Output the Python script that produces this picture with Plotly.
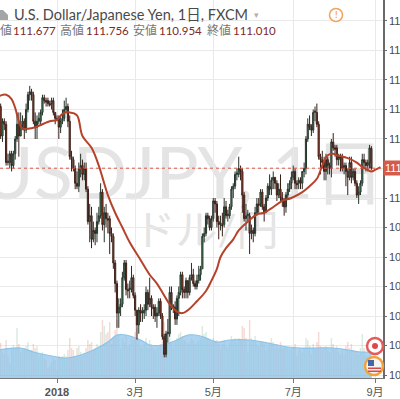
import plotly.graph_objects as go

# ---------------- data ----------------
open_ = [112.9,113.1,112.1,112.6,112.5,111.2,111.2,111.5,111.1,111.5,112.0,
         112.5,112.1,112.5,112.6,112.3,113.0,113.5,113.6,113.5,112.6,112.4,112.6,112.6,112.9,113.4,113.3,113.3,113.2,113.2,113.3,112.9,
         112.7,112.7,112.4,112.6,112.7,113.0,113.1,112.6,111.4,111.3,111.0,110.5,110.4,111.0,111.1,110.8,111.0,110.3,109.2,109.4,108.6,108.9,108.8,
         109.2,109.4,110.2,109.1,109.5,109.3,109.3,108.8,108.7,107.8,107.1,106.1,106.3,106.4,107.3,107.8,106.9,106.9,106.9,107.3,
         106.7,106.2,105.7,106.2,106.1,106.1,106.2,106.8,106.4,106.6,106.3,106.3,106.0,106.1,106.5,106.0,105.3,104.7,105.4,105.4,106.8,106.3,
         106.3,105.9,106.6,106.8,107.4,106.9,106.8,107.2,106.8,107.3,107.4,107.1,107.0,107.2,107.4,107.6,108.7,108.8,109.4,109.3,109.0,
         109.3,109.9,109.8,109.2,109.1,109.1,109.1,109.7,109.4,109.4,109.7,110.3,110.4,110.8,110.8,111.0,110.9,110.1,109.3,109.4,109.4,108.8,108.9,
         108.8,109.5,109.8,109.8,110.2,109.7,109.5,110.0,110.4,110.3,110.6,110.7,110.5,110.1,110.3,110.0,109.9,109.7,110.1,110.3,110.5,
         110.7,110.9,110.5,110.5,110.6,110.5,110.9,111.0,112.0,112.5,112.4,112.3,112.9,112.9,112.5,111.4,111.3,111.2,110.9,111.3,111.1,111.0,
         111.9,111.7,111.7,111.3,111.4,111.4,111.0,111.1,110.9,110.7,111.2,110.7,110.9,110.5,110.1,110.2,110.5,111.3,111.2,111.1,111.2,111.677]
high = [113.3,113.2,112.7,112.7,112.6,111.5,111.6,111.6,111.6,112.1,112.9,
        112.9,112.9,112.8,112.7,113.2,113.6,113.8,113.7,113.6,112.9,112.8,112.9,113.0,113.5,113.5,113.4,113.4,113.3,113.4,113.4,112.9,
        112.8,112.8,112.8,113.0,113.3,113.4,113.2,112.8,111.6,111.4,111.1,110.9,111.2,111.5,111.3,111.2,111.2,110.4,109.8,109.7,109.2,109.0,109.5,
        109.7,110.5,110.3,109.7,109.8,109.5,109.4,109.0,108.8,107.9,107.2,106.6,106.6,107.5,107.9,107.9,107.1,107.2,107.7,107.4,
        106.8,106.2,106.3,106.4,106.3,106.4,107.0,106.9,107.3,106.7,106.4,106.4,106.3,106.6,106.6,106.1,105.4,105.5,105.9,107.0,107.0,106.4,
        106.5,106.7,107.0,107.5,107.5,107.0,107.3,107.2,107.4,107.8,107.6,107.2,107.4,107.7,107.7,108.8,109.0,109.5,109.5,109.4,109.4,
        110.0,110.0,109.9,109.4,109.4,109.5,110.0,109.9,109.6,109.8,110.4,110.5,110.9,111.0,111.4,111.1,111.0,110.2,109.8,109.6,109.5,109.1,109.0,
        109.7,110.0,110.0,110.3,110.3,109.8,110.1,110.5,110.8,110.7,110.9,110.7,110.6,110.5,110.8,110.2,110.0,110.2,110.5,110.6,110.9,
        111.1,111.0,110.6,110.7,110.7,110.9,111.2,112.1,112.7,112.8,112.5,113.0,113.1,113.2,112.6,111.5,111.6,111.4,111.5,111.4,111.2,112.0,
        112.2,111.8,111.8,111.5,111.5,111.5,111.2,111.2,111.0,111.4,111.4,111.0,111.0,110.6,110.4,110.6,111.5,111.5,111.3,111.3,111.8,111.756]
low = [112.8,112.0,111.9,112.3,111.1,111.1,111.0,110.9,111.0,111.3,111.9,
       111.4,112.1,112.3,112.0,112.2,112.9,113.3,113.3,112.5,112.0,112.0,112.5,112.5,112.8,113.2,113.1,113.1,113.1,113.0,112.8,112.5,
       112.6,112.0,112.2,112.5,112.6,112.9,112.4,111.3,110.9,110.9,110.3,110.3,110.2,110.7,110.6,110.6,110.2,109.1,108.5,108.3,108.5,108.4,108.5,
       109.1,109.3,108.9,108.5,109.0,108.8,108.1,108.5,107.6,106.8,105.6,105.6,106.0,106.3,107.2,106.7,106.6,106.6,106.8,106.6,
       106.0,105.2,105.4,105.8,105.8,105.9,106.0,106.2,106.3,106.0,105.9,105.8,105.6,106.0,105.9,105.2,104.6,104.6,105.1,105.3,106.2,106.1,
       105.7,105.7,106.0,106.7,106.6,106.6,106.6,106.6,106.7,107.2,107.0,106.9,106.9,107.1,107.2,107.6,108.5,108.7,109.1,108.9,108.9,
       109.2,109.5,109.0,108.6,108.9,108.7,109.0,109.3,109.2,109.3,109.6,110.0,110.3,110.6,110.7,110.6,109.5,109.2,108.9,109.2,108.1,108.6,108.5,
       108.7,109.4,109.5,109.7,109.6,109.2,109.5,109.9,110.1,110.1,110.3,110.3,109.9,110.0,109.9,109.7,109.4,109.5,110.0,110.2,110.3,
       110.6,110.3,110.3,110.3,110.3,110.3,110.7,110.8,111.9,112.3,112.1,112.2,112.6,112.4,111.3,110.8,111.0,110.6,110.6,110.8,110.8,110.7,
       111.6,111.4,111.1,111.1,110.9,110.9,110.8,110.4,110.1,110.6,110.5,110.6,110.4,110.0,109.8,110.1,110.4,111.0,110.9,110.9,111.0,110.954]
close = [113.1,112.1,112.6,112.5,111.2,111.25,111.5,111.1,111.5,112.0,112.5,
         112.1,112.5,112.6,112.3,113.0,113.5,113.6,113.5,112.6,112.4,112.6,112.7,112.9,113.4,113.3,113.25,113.2,113.15,113.3,112.9,112.7,
         112.65,112.4,112.6,112.7,113.0,113.1,112.6,111.4,111.3,111.0,110.5,110.4,111.0,111.1,110.8,111.0,110.3,109.2,109.4,108.6,108.9,108.8,109.2,
         109.4,110.2,109.1,109.5,109.3,109.25,108.8,108.7,107.8,107.1,106.1,106.3,106.4,107.3,107.8,106.9,106.85,106.95,107.3,106.7,
         106.2,105.7,106.2,106.1,106.15,106.2,106.8,106.4,106.6,106.3,106.25,106.0,106.1,106.5,106.0,105.3,104.7,105.4,105.45,106.8,106.3,106.35,
         105.9,106.6,106.8,107.4,106.9,106.8,107.2,106.8,107.3,107.4,107.1,107.0,107.2,107.4,107.6,108.7,108.8,109.4,109.3,109.0,109.3,
         109.9,109.8,109.2,109.1,109.15,109.05,109.7,109.4,109.45,109.7,110.3,110.4,110.8,110.85,111.0,110.9,110.1,109.3,109.4,109.45,108.8,108.9,108.8,
         109.5,109.8,109.75,110.2,109.7,109.5,110.0,110.4,110.3,110.6,110.7,110.5,110.1,110.3,110.0,109.9,109.7,110.1,110.3,110.5,110.7,
         110.9,110.5,110.45,110.6,110.5,110.9,111.0,112.0,112.5,112.4,112.3,112.9,112.95,112.5,111.4,111.3,111.2,110.9,111.3,111.1,111.0,111.9,
         111.7,111.65,111.3,111.4,111.35,111.0,111.1,110.9,110.7,111.2,110.7,110.9,110.5,110.1,110.2,110.5,111.3,111.2,111.1,111.2,111.7,111.010]
volume = [30,35,26,24,38,22,15,30,33,30,50,
          34,26,28,30,32,36,26,28,34,30,32,22,24,26,20,18,10,12,16,20,18,
          8,22,20,22,24,22,28,40,30,28,22,30,32,26,22,24,30,38,34,36,28,30,34,
          32,46,58,52,44,46,56,34,40,48,58,44,30,40,36,42,32,34,40,38,
          46,50,38,32,30,34,40,30,38,34,30,28,30,32,34,44,56,40,36,48,36,30,
          36,40,44,46,42,38,36,34,36,40,38,34,36,38,40,52,44,46,40,38,36,
          40,36,38,34,30,34,38,32,30,36,42,38,40,36,40,38,52,50,40,26,58,40,38,
          42,34,32,36,36,34,28,32,36,40,36,30,34,30,36,30,30,32,30,28,30,
          30,34,22,28,30,26,30,40,38,32,24,34,30,36,46,32,28,30,32,28,26,40,
          34,30,32,26,24,28,24,32,36,30,34,28,26,26,24,30,44,30,22,22,30,28]
ma_idx = [0,4,7,9,11,13,16,20,24,28,32,35,39,43,46,51,55,57,60,64,68,72,78,83,87,90,94,98,101,105,109,
          114,117,120,122,125,129,132,138,142,146,150,156,161,167,171,175,178,181,184,186,192,197,200,203,205,207,210]
ma_val = [113.45,113.5,113.35,113.05,112.6,112.35,112.35,112.4,112.5,112.6,112.65,112.85,112.9,112.8,112.1,111.7,111.1,110.7,110.1,109.5,109.0,108.5,107.9,107.4,107.1,106.8,106.4,106.15,106.1,106.25,106.5,
          106.85,107.2,107.6,108.0,108.3,108.6,108.9,109.25,109.45,109.5,109.65,109.9,110.0,110.2,110.4,110.65,111.1,111.45,111.5,111.45,111.35,111.2,111.05,110.95,110.9,110.95,111.05]
vol_ma_idx = [0,12,19,32,37,45,52,60,65,70,78,83,90,98,104,111,120,127,138,148,159,166,175,184,192,199,205]
vol_ma_val = [28,30,26,21,20,23,28,36,43,43,38,33,33,38,43,42,36,38,38,35,31,30,30,30,28,26,26]
tick_idx = [32, 75, 118, 162, 207]
tick_text = ["<b>2018</b>", "3月", "5月", "7月", "9月"]
header_labels = ["始値", "高値", "安値", "終値"]
header_values = ["111.677", "111.756", "110.954", "111.010"]
title_text = "U.S. Dollar/Japanese Yen, 1日, FXCM"
watermark_1 = "USDJPY, 1日"
watermark_2 = "ドル/円"

# ---------------- layout helpers (pixel -> paper) ----------------
PW, PH = 383.0, 378.0
def X(p):
    return p / PW
def Y(p):
    return (PH - p) / PH

bars = list(range(len(close)))
vol_colors = ["rgba(90,160,115,0.22)" if c >= o else "rgba(205,85,65,0.22)" for o, c in zip(open_, close)]

FONT = "Lato, 'Noto Sans CJK JP', sans-serif"
AXFONT = "'Liberation Sans', 'Noto Sans CJK JP', sans-serif"

fig = go.Figure()
fig.add_trace(go.Bar(x=bars, y=volume, marker=dict(color=vol_colors, line=dict(width=0)),
                     yaxis="y", hoverinfo="skip"))
fig.add_trace(go.Scatter(x=vol_ma_idx, y=vol_ma_val, mode="lines", line=dict(color="#8cc3e8", width=1.2, shape="spline"),
                         fill="tozeroy", fillcolor="rgba(140,196,234,0.72)", yaxis="y", hoverinfo="skip"))
fig.add_trace(go.Candlestick(x=bars, open=open_, high=high, low=low, close=close, yaxis="y2",
                             increasing=dict(line=dict(color="#26332b", width=1), fillcolor="#4f9e6b"),
                             decreasing=dict(line=dict(color="#3a1e18", width=1), fillcolor="#c0452c"),
                             whiskerwidth=0, hoverinfo="skip"))
fig.add_trace(go.Scatter(x=ma_idx, y=ma_val, mode="lines", line=dict(color="#b5432a", width=2, shape="spline"),
                         yaxis="y2", hoverinfo="skip"))

shapes = [
    dict(type="rect", xref="paper", yref="paper", x0=X(-20), x1=X(386), y0=Y(202), y1=Y(138),
         line=dict(width=0), fillcolor="rgba(0,0,0,0)", layer="between",
         label=dict(text=watermark_1, font=dict(size=72, color="#e4e4e4", family=FONT), textposition="middle center")),
    dict(type="rect", xref="paper", yref="paper", x0=X(126), x1=X(286), y0=Y(248), y1=Y(208),
         line=dict(width=0), fillcolor="rgba(0,0,0,0)", layer="between",
         label=dict(text=watermark_2, font=dict(size=42, color="#e4e4e4", family=FONT), textposition="middle center")),
    dict(type="line", xref="paper", yref="y2", x0=0, x1=1, y0=close[-1], y1=close[-1],
         line=dict(color="#d9564a", width=1, dash="dot"), layer="above"),
    # symbol icon
    dict(type="path", xref="paper", yref="paper",
         path=f"M {X(0)},{Y(10)} L {X(8)},{Y(10)} L {X(8)},{Y(20)} L {X(0)},{Y(20)} Z",
         fillcolor="#a5a5a5", line=dict(width=0)),
    dict(type="path", xref="paper", yref="paper",
         path=f"M {X(3)},{Y(10)} L {X(8)},{Y(10)} L {X(8)},{Y(15)} Z",
         fillcolor="#ffffff", line=dict(width=0)),
    # warning icon
    dict(type="circle", xref="paper", yref="paper", x0=X(329.5), x1=X(342.5), y0=Y(21.5), y1=Y(8.5),
         line=dict(color="#f2a35c", width=1.5), fillcolor="white"),
    # event icons
    dict(type="circle", xref="paper", yref="paper", x0=X(367), x1=X(383), y0=Y(354), y1=Y(338),
         line=dict(color="#e55b5b", width=2.5), fillcolor="white"),
    dict(type="circle", xref="paper", yref="paper", x0=X(372), x1=X(378), y0=Y(349), y1=Y(343),
         line=dict(width=0), fillcolor="#e04848"),
    dict(type="circle", xref="paper", yref="paper", x0=X(365), x1=X(383), y0=Y(375), y1=Y(357),
         line=dict(color="#f0a33a", width=2.5), fillcolor="#f3f3f3"),
    dict(type="rect", xref="paper", yref="paper", x0=X(368), x1=X(374), y0=Y(366), y1=Y(360),
         line=dict(width=0), fillcolor="#4564a8"),
    dict(type="rect", xref="paper", yref="paper", x0=X(368), x1=X(381), y0=Y(369), y1=Y(367.5),
         line=dict(width=0), fillcolor="#d24a4a"),
    dict(type="rect", xref="paper", yref="paper", x0=X(368), x1=X(381), y0=Y(372), y1=Y(370.5),
         line=dict(width=0), fillcolor="#d24a4a"),
]

annotations = [
    dict(xref="paper", yref="paper", x=X(12), y=Y(15), xanchor="left", yanchor="middle", showarrow=False,
         text=title_text, font=dict(size=14.5, color="#4a4a4a", family=FONT)),
    dict(xref="paper", yref="paper", x=X(252), y=Y(14), xanchor="left", yanchor="middle", showarrow=False,
         text="▾", font=dict(size=9, color="#b0b0b0", family=FONT)),
    dict(xref="paper", yref="paper", x=X(336), y=Y(15), xanchor="center", yanchor="middle", showarrow=False,
         text="<b>!</b>", font=dict(size=9, color="#f2a35c", family=FONT)),
    dict(xref="paper", yref="y2", x=1, y=close[-1], xanchor="left", yanchor="middle", showarrow=False,
         text=f"{close[-1]:.3f}", bgcolor="#d35b4b", borderpad=1,
         font=dict(size=11, color="white", family=AXFONT)),
]
label_left = [-14, 58, 131, 205]
value_left = [11, 84, 157, 231]
for lab, val, ll, vl in zip(header_labels, header_values, label_left, value_left):
    annotations.append(dict(xref="paper", yref="paper", x=X(ll), y=Y(31), xanchor="left", yanchor="middle",
                            showarrow=False, text=lab, font=dict(size=12, color="#777777", family=FONT)))
    annotations.append(dict(xref="paper", yref="paper", x=X(vl), y=Y(31), xanchor="left", yanchor="middle",
                            showarrow=False, text=val, font=dict(size=11.5, color="#7d2a28", family=FONT)))

fig.update_layout(
    width=400, height=399,
    margin=dict(l=0, r=17, t=0, b=21, pad=0),
    paper_bgcolor="white", plot_bgcolor="white",
    showlegend=False, hovermode=False, bargap=0.2, boxgap=0.1,
    xaxis=dict(range=[0.63, 211.4], tickmode="array", tickvals=tick_idx, ticktext=tick_text,
               showgrid=True, gridcolor="#e9e9e9", gridwidth=1, zeroline=False,
               showline=True, linecolor="#777777", linewidth=1, ticks="outside", ticklen=4, tickcolor="#777777",
               tickfont=dict(size=11, color="#555555", family=AXFONT), rangeslider=dict(visible=False),
               automargin=False, fixedrange=True),
    yaxis=dict(range=[0, 378], visible=False, showgrid=False, zeroline=False, fixedrange=True),
    yaxis2=dict(overlaying="y", side="right", range=[103.9, 116.71], dtick=1, tick0=0,
                showgrid=True, gridcolor="#e9e9e9", gridwidth=1, zeroline=False,
                showline=True, linecolor="#6a6a6a", linewidth=1.5, ticks="outside", ticklen=2, tickcolor="#6a6a6a",
                tickfont=dict(size=11, color="#4a4a4a", family=AXFONT), automargin=False, fixedrange=True),
    shapes=shapes, annotations=annotations,
)

fig.write_html("out.html", config={"displayModeBar": False})
